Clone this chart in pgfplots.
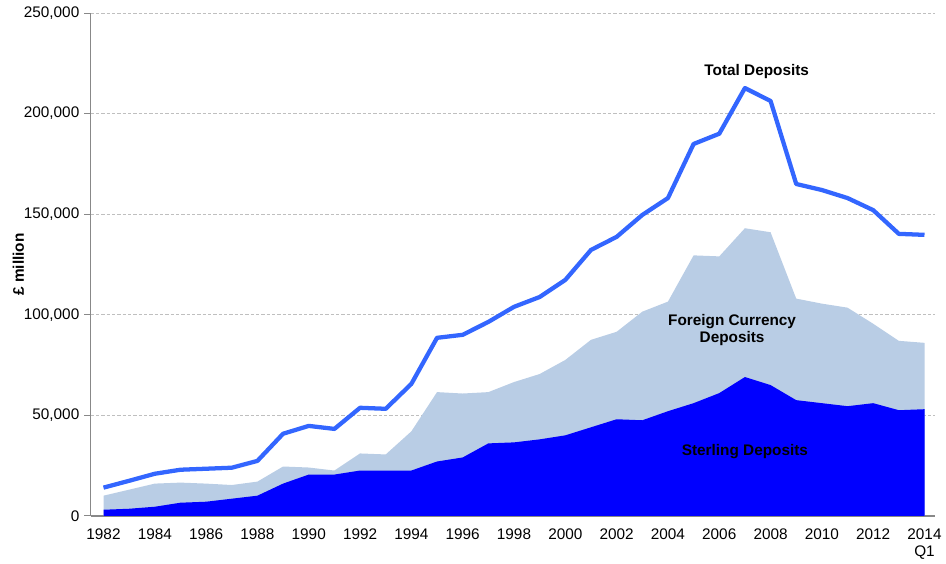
\documentclass[border=0pt]{standalone}
\usepackage{pgfplots}
\usepackage{pgfplotstable}
\pgfplotsset{compat=1.18}
\usepackage{fontspec}
\setmainfont{Liberation Sans}
\definecolor{sterl}{HTML}{0000FF}
\definecolor{fc}{HTML}{B9CDE5}
\definecolor{tot}{HTML}{3366FF}
\definecolor{axgray}{HTML}{888888}
\pgfplotstableread{
year sterling fctop total
1982 3000 10000 14000
1983 3500 13000 17400
1984 4500 16000 20900
1985 6500 16500 22900
1986 7000 16000 23400
1987 8500 15300 23900
1988 10000 17000 27300
1989 16000 24500 40800
1990 20500 24000 44700
1991 20500 22500 43200
1992 22500 31000 53700
1993 22500 30500 53200
1994 22500 42000 65600
1995 27000 61500 88500
1996 29000 60800 90000
1997 36000 61500 96400
1998 36500 66500 103900
1999 38000 70500 108800
2000 40000 77500 117300
2001 44000 87500 132200
2002 48000 91500 138700
2003 47500 101500 149600
2004 52000 106500 158000
2005 56000 129500 184900
2006 61000 129000 190000
2007 69000 143000 212700
2008 65000 141000 206300
2009 57500 108000 165000
2010 56000 105500 162000
2011 54500 103500 158000
2012 56000 95500 152000
2013 52500 87000 140200
2014 53000 86000 139700
}\datatable
\begin{document}
\begin{tikzpicture}
\begin{axis}[
  scale only axis,
  width=633pt, height=377pt,
  xmin=1981.5, xmax=2014.4,
  ymin=0, ymax=250000,
  axis lines=left,
  axis line style={axgray, line width=1pt, -},
  x axis line style={line width=1.6pt},
  ytick={0,50000,100000,150000,200000,250000},
  yticklabel style={/pgf/number format/fixed, /pgf/number format/1000 sep={,}, font=\fontsize{11.5}{13}\selectfont},
  scaled y ticks=false,
  /pgf/number format/assume math mode=true,
  xtick={1982,1984,...,2014},
  xticklabels={1982,1984,1986,1988,1990,1992,1994,1996,1998,2000,2002,2004,2006,2008,2010,2012,{2014\\Q1}},
  xticklabel style={align=center, font=\fontsize{11.5}{13}\selectfont, yshift=-1pt},
  x tick style={draw=none},
  y tick style={axgray, line width=0.8pt},
  tick align=outside,
  major tick length=5pt,
  ymajorgrids,
  grid style={gray!50, dash pattern=on 2.5pt off 1.5pt, line width=0.6pt},
  ylabel={\bfseries £ million},
  ylabel style={font=\fontsize{11.5}{13}\selectfont, yshift=-7pt},
  clip=false,
]
\addplot[fill=fc, draw=none] table[x=year, y=fctop] {\datatable} \closedcycle;
\addplot[fill=sterl, draw=none] table[x=year, y=sterling] {\datatable} \closedcycle;
\addplot[tot, line width=3.2pt, line join=round] table[x=year, y=total] {\datatable};
\node[font=\bfseries\fontsize{11.5}{13}\selectfont] at (axis cs:2007.46,221000) {Total Deposits};
\node[font=\bfseries\fontsize{11.5}{13}\selectfont, align=center] at (axis cs:2006.5,92500) {Foreign Currency\\Deposits};
\node[font=\bfseries\fontsize{11.5}{13}\selectfont] at (axis cs:2007.0,32000) {Sterling Deposits};
\end{axis}
\path ([xshift=-68pt]current axis.south west) -- ([xshift=-68pt]current axis.west);
\path ([yshift=9.8pt]current axis.north west) -- ([yshift=9.8pt]current axis.north);
\end{tikzpicture}
\end{document}
